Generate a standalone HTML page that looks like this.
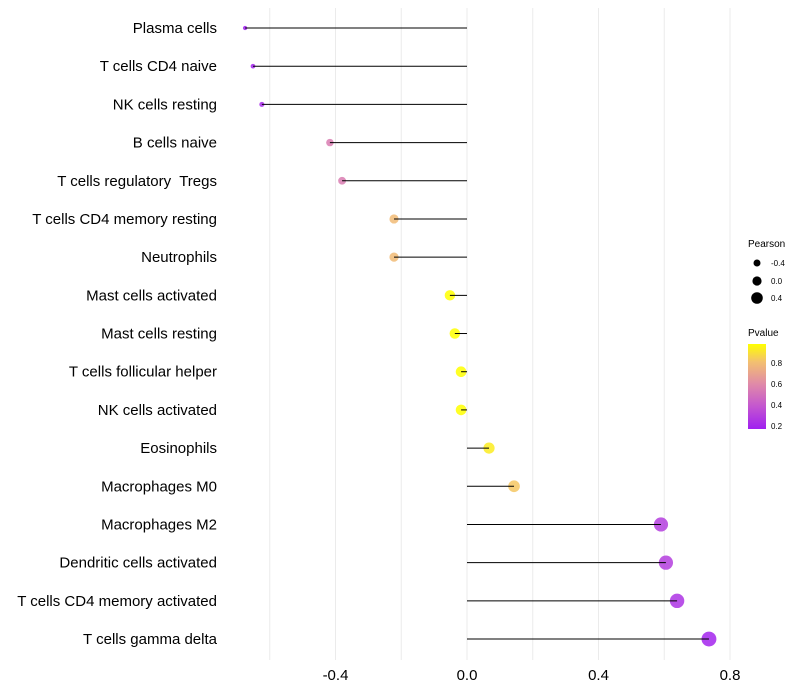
<!DOCTYPE html>
<html><head><meta charset="utf-8"><style>
body{margin:0;background:#fff;font-family:"Liberation Sans",sans-serif}
svg{display:block}
#labels text{white-space:pre}
</style></head><body>
<svg id="chart" width="800" height="700">
<g id="grid"></g><g id="marks"></g><g id="labels"></g><g id="ticks"></g>
<g id="legend">
<text x="748" y="247" font-size="10">Pearson</text>
<circle cx="757" cy="263" r="3.5" fill="#000"/><text x="771" y="266" font-size="8">-0.4</text>
<circle cx="757" cy="281" r="4.6" fill="#000"/><text x="771" y="284" font-size="8">0.0</text>
<circle cx="757" cy="298" r="5.8" fill="#000"/><text x="771" y="301" font-size="8">0.4</text>
<text x="748" y="336" font-size="10">Pvalue</text>
<defs><linearGradient id="pg" x1="0" y1="1" x2="0" y2="0">
<stop offset="0" stop-color="#a020f0"/><stop offset="0.27" stop-color="#c457cf"/><stop offset="0.53" stop-color="#e08aa8"/><stop offset="0.79" stop-color="#f3c070"/><stop offset="1" stop-color="#ffff00"/></linearGradient></defs>
<rect x="748" y="344" width="18" height="85" fill="url(#pg)"/>
<text x="771" y="366" font-size="8">0.8</text><text x="771" y="387" font-size="8">0.6</text>
<text x="771" y="408" font-size="8">0.4</text><text x="771" y="429" font-size="8">0.2</text>
</g>
</svg>
<script>
const cells=["Plasma cells","T cells CD4 naive","NK cells resting","B cells naive","T cells regulatory  Tregs","T cells CD4 memory resting","Neutrophils","Mast cells activated","Mast cells resting","T cells follicular helper","NK cells activated","Eosinophils","Macrophages M0","Macrophages M2","Dendritic cells activated","T cells CD4 memory activated","T cells gamma delta"];
const pearson=[-0.675,-0.651,-0.624,-0.417,-0.380,-0.222,-0.222,-0.052,-0.037,-0.018,-0.018,0.067,0.143,0.590,0.605,0.639,0.736];
const pvalues=[0.18,0.2,0.22,0.55,0.55,0.78,0.78,0.97,0.97,0.97,0.97,0.92,0.82,0.3,0.3,0.26,0.2];
const ticks=[-0.4,0.0,0.4,0.8];
const grids=[-0.6,-0.4,-0.2,0,0.2,0.4,0.6,0.8];
const NS="http://www.w3.org/2000/svg";
const x=v=>467+v*328.75;
const y=i=>28+i*38.19;
const r=v=>Math.sqrt(Math.max(3.5,29+36*v));
const stops=[[0.18,[160,32,240]],[0.4,[196,87,207]],[0.6,[224,138,168]],[0.8,[243,192,112]],[0.97,[255,255,0]]];
function col(p){p=Math.max(0.18,Math.min(0.97,p));for(let k=1;k<stops.length;k++){if(p<=stops[k][0]){const a=stops[k-1],b=stops[k],t=(p-a[0])/(b[0]-a[0]);return "rgb("+a[1].map((c,j)=>Math.round(c+(b[1][j]-c)*t)).join(",")+")";}}return "rgb(255,255,0)";}
function mk(t,at,par){const e=document.createElementNS(NS,t);for(const k in at)e.setAttribute(k,at[k]);document.getElementById(par).appendChild(e);return e;}
grids.forEach(g=>{const l=mk("line",{x1:x(g),x2:x(g),y1:8,y2:660,stroke:"#ebebeb","stroke-width":1},"grid");

});
cells.forEach((c,i)=>{
const p=mk("circle",{cx:x(pearson[i]),cy:y(i),r:r(pearson[i]),fill:col(pvalues[i]),"fill-opacity":0.85},"marks");


const s=mk("line",{x1:x(0),x2:x(pearson[i]),y1:y(i),y2:y(i),stroke:"#000","stroke-width":1},"marks");


const t=mk("text",{x:217,y:y(i)+5,"text-anchor":"end","font-size":15,fill:"#000"},"labels");
t.textContent=c;


});
ticks.forEach(v=>{const t=mk("text",{x:x(v),y:680,"text-anchor":"middle","font-size":15,fill:"#000"},"ticks");
t.textContent=v.toFixed(1);

});
</script>
</body></html>
